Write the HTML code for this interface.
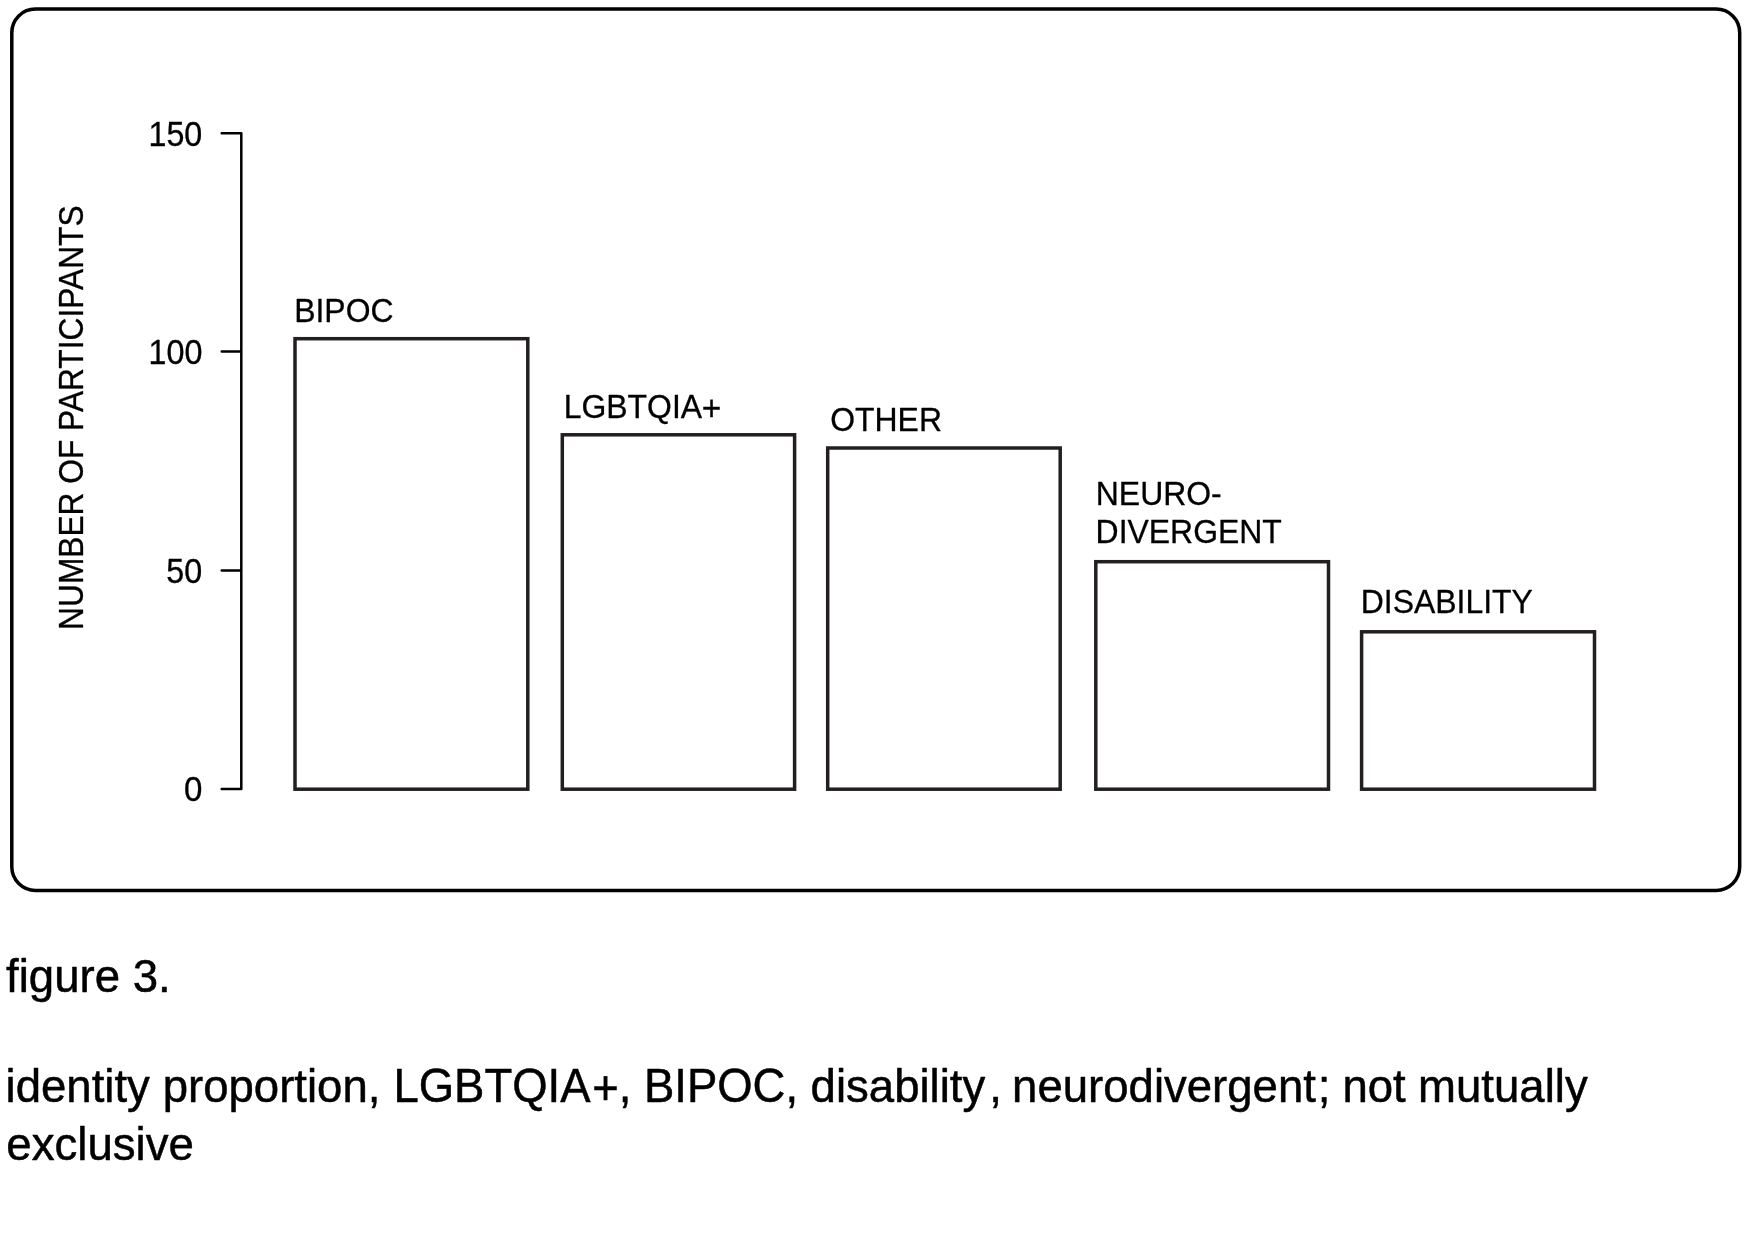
<!DOCTYPE html>
<html>
<head>
<meta charset="utf-8">
<title>figure 3</title>
<style>
  html, body { margin: 0; padding: 0; background: #ffffff; }
  body { width: 1747px; height: 1237px; overflow: hidden; position: relative; }
  svg { position: absolute; left: 0; top: 0; display: block; will-change: transform; }
  text { font-family: "Liberation Sans", sans-serif; fill: #000000; stroke: #000000; stroke-width: 0.3px; stroke-linejoin: round; }
  .lbl, .lbl text { font-size: 33.9px; }
  .tick text { font-size: 34.5px; text-anchor: end; }
  .cap text { font-size: 46px; stroke-width: 0.5px; }
</style>
</head>
<body>
<svg width="1747" height="1237" viewBox="0 0 1747 1237">
  <!-- outer frame -->
  <rect x="11.8" y="9.1" width="1727.9" height="881.3" rx="23.6" ry="23.6" fill="#ffffff" stroke="#000000" stroke-width="3.5"/>

  <!-- y axis -->
  <path d="M221.7 133.2 H241.3 V789 H221.7 M221.7 351.6 H241.3 M221.7 570.5 H241.3" fill="none" stroke="#000000" stroke-width="2.5" stroke-linecap="round" stroke-linejoin="round"/>

  <!-- tick labels -->
  <g class="tick">
    <text transform="translate(202.3 146.0) scale(0.9357 1)">150</text>
    <text transform="translate(202.4 363.7) scale(0.9357 1)">100</text>
    <text transform="translate(202.2 582.5) scale(0.9357 1)">50</text>
    <text style="font-size:35.7px" transform="translate(202.5 801.0) scale(0.926 1)">0</text>
  </g>

  <!-- y axis title -->
  <text class="lbl" style="font-size:34.3px" transform="translate(83.3 629.9) rotate(-90) scale(0.9246 1)">NUMBER OF PARTICIPANTS</text>

  <!-- bars -->
  <g fill="#ffffff" stroke="#231f20" stroke-width="3.5">
    <rect x="295.0" y="338.7" width="232.8" height="450.5"/>
    <rect x="562.3" y="434.8" width="232.3" height="354.4"/>
    <rect x="827.7" y="448.0" width="232.5" height="341.2"/>
    <rect x="1095.8" y="561.7" width="232.7" height="227.5"/>
    <rect x="1361.6" y="631.8" width="232.9" height="157.4"/>
  </g>

  <!-- bar labels -->
  <g class="lbl">
    <text transform="translate(294.2 321.7) scale(0.942 1)">BIPOC</text>
    <text transform="translate(563.7 417.7) scale(0.942 1)">LGBTQIA<tspan dy="2.6" dx="-0.4" style="font-size:35.6px">+</tspan></text>
    <text transform="translate(830.2 431.3) scale(0.942 1)">OTHER</text>
    <text transform="translate(1095.8 505.1) scale(0.942 1)">NEURO-</text>
    <text transform="translate(1095.6 543.4) scale(0.942 1)">DIVERGENT</text>
    <text transform="translate(1360.8 613.1) scale(0.942 1)">DISABILITY</text>
  </g>

  <!-- caption -->
  <g class="cap">
    <text transform="translate(6.1 991.7) scale(0.9905 1)">figure 3.</text>
    <text transform="translate(5.6 1102.3) scale(0.99 1)">identity</text>
    <text transform="translate(162.7 1102.4) scale(0.99 1)">proportion,</text>
    <text style="font-size:48.2px" transform="translate(393.4 1102.4) scale(0.944 1)">LGBTQIA<tspan dx="1.8" dy="2">+</tspan><tspan dy="-2">,</tspan></text>
    <text style="font-size:48.2px" transform="translate(643.9 1102.4) scale(0.944 1)">BIPOC,</text>
    <text transform="translate(810.6 1102.4) scale(0.99 1)">disability<tspan dx="4">,</tspan></text>
    <text transform="translate(1012.1 1102.4) scale(0.99 1)">neurodivergent<tspan dx="2">;</tspan></text>
    <text transform="translate(1342.4 1102.4) scale(0.99 1)">not</text>
    <text transform="translate(1418.1 1102.4) scale(0.99 1)">mutually</text>
    <text transform="translate(6.3 1160.2) scale(0.992 1)">exclusive</text>
  </g>
</svg>
</body>
</html>
